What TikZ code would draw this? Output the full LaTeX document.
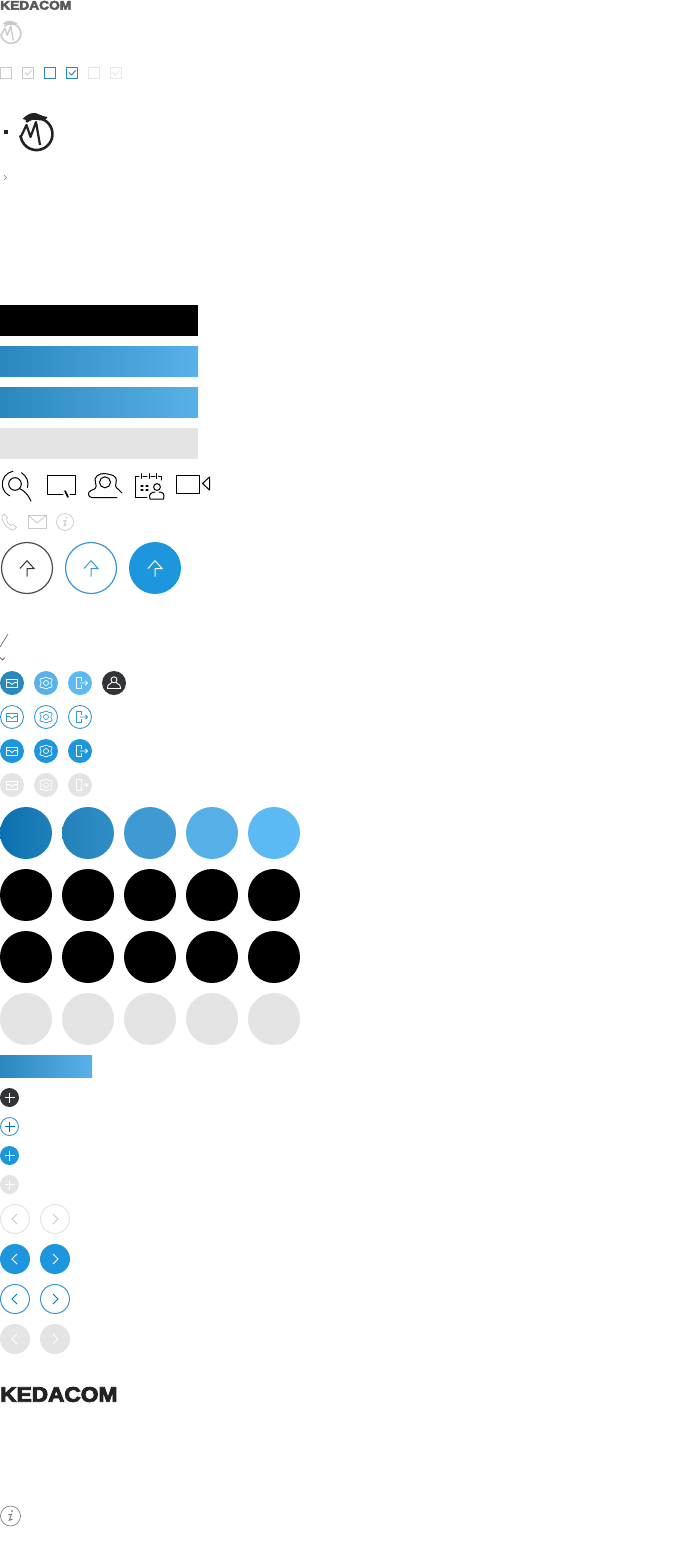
\documentclass[tikz,border=0pt]{standalone}
\usepackage{fontspec}
\newfontfamily\logofont[FakeBold=4]{Liberation Sans Bold}
\definecolor{kblue}{HTML}{1E96DE}
\definecolor{kedge}{HTML}{3C96D2}
\definecolor{kdark}{HTML}{323438}
\definecolor{kgray}{HTML}{E4E4E4}
\definecolor{kline}{HTML}{CACACA}
\definecolor{kglight}{HTML}{E6E6E6}
\definecolor{kdeep}{HTML}{0078BE}
\definecolor{gradl}{HTML}{2A88BF}
\definecolor{gradr}{HTML}{58B1E8}
\definecolor{cA}{HTML}{0A70AE}
\definecolor{cAr}{HTML}{2080BA}
\definecolor{cB}{HTML}{2482BA}
\definecolor{cBr}{HTML}{308EC6}
\definecolor{cC}{HTML}{3F9AD3}
\definecolor{cD}{HTML}{55B0E8}
\definecolor{cE}{HTML}{5BB9F4}
\definecolor{klogo}{HTML}{222222}
\tikzset{
 gradbar/.style={left color=gradl,right color=gradr,draw=none},
 glyph/.style={line width=.8pt,line cap=round,line join=round},
 logotext/.style={inner sep=0pt,anchor=west,font=\logofont},
 chk/.style={line width=1pt,fill=white},
}
% icons: x, y, colour
\newcommand{\mailic}[3]{\begin{scope}[shift={(#1,#2)}]
 \draw[glyph,#3] (-5.7,-3.5) rectangle (5.7,4);
 \draw[glyph,#3] (-5.7,-.5) -- (-2.5,-.5) -- (0,1.5) -- (2.5,-.5) -- (5.7,-.5);
 \end{scope}}
\newcommand{\gearic}[3]{\begin{scope}[shift={(#1,#2)}]
 \draw[glyph,#3,line width=.7pt] (0,-5.8) .. controls (1.5,-6.2) and (2,-4.6) .. (2.8,-4.6) .. controls (3.8,-4.6) and (6,-5) .. (6.2,-3.2) .. controls (6.4,-1.8) and (4.8,-1) .. (4.8,0) .. controls (4.8,1) and (6.4,1.8) .. (6.2,3.2) .. controls (6,5) and (3.8,4.6) .. (2.8,4.6) .. controls (2,4.6) and (1.5,6.2) .. (0,5.8) .. controls (-1.5,6.2) and (-2,4.6) .. (-2.8,4.6) .. controls (-3.8,4.6) and (-6,5) .. (-6.2,3.2) .. controls (-6.4,1.8) and (-4.8,1) .. (-4.8,0) .. controls (-4.8,-1) and (-6.4,-1.8) .. (-6.2,-3.2) .. controls (-6,-5) and (-3.8,-4.6) .. (-2.8,-4.6) .. controls (-2,-4.6) and (-1.5,-6.2) .. (0,-5.8) -- cycle;
 \draw[glyph,#3,line width=.7pt] (0,0) circle (2.5);
 \end{scope}}
\newcommand{\exitic}[3]{\begin{scope}[shift={(#1,#2)}]
 \draw[#3,line width=1pt] (1.7,-2) -- (1.7,-5.5) -- (-4,-5.5) -- (-4,5.5) -- (1.7,5.5) -- (1.7,2);
 \draw[#3,line width=.9pt] (0,0) -- (7.5,0) (5.5,-2) -- (7.5,0) -- (5.5,2);
 \end{scope}}
\newcommand{\upic}[3]{\begin{scope}[shift={(#1,#2)}]
 \draw[line width=1pt,#3,line join=miter] (-7,.5) -- (0,-7.3) -- (7,.5) -- (0,.5) -- (0,8.7);
 \end{scope}}
\newcommand{\plusic}[3]{\begin{scope}[shift={(#1,#2)}]
 \draw[line width=1.1pt,#3] (-5,0) -- (5,0) (0,-5) -- (0,5);
 \end{scope}}
\newcommand{\lchev}[3]{\begin{scope}[shift={(#1,#2)}]
 \draw[line width=.9pt,#3] (2.5,-5) -- (-2.5,0) -- (2.5,5);
 \end{scope}}
\newcommand{\rchev}[3]{\begin{scope}[shift={(#1,#2)}]
 \draw[line width=.9pt,#3] (-2,-5) -- (3,0) -- (-2,5);
 \end{scope}}
\newcommand{\infoic}[4]{\begin{scope}[shift={(#1,#2)},scale=#3]
 \draw[#4,line width=.7pt] (0,0) circle (10);
 \draw[#4,line width=1pt,line cap=round] (-2,-1.2) -- (1,-1.8) -- (-1.2,4.2) -- (1.8,3.2);
 \fill[#4] (1.4,-5) circle (1.1);
 \end{scope}}
\newcommand{\mlogo}[4]{\begin{scope}[shift={(#1,#2)},scale=#3]
 \draw[#4,line width=2.6*#3 pt] (-10.3,-12.2) arc[start angle=-130,end angle=172,radius=16];
 \fill[#4] (-14,-15) .. controls (-10,-19) and (-6,-21.5) .. (-1,-21) .. controls (2,-20.5) and (4,-18) .. (11,-17) .. controls (10,-14) and (6,-13) .. (0,-14) .. controls (-5,-15) and (-10,-13) .. (-14,-15) -- cycle;
 \draw[#4,line width=2.2*#3 pt,line join=round] (-17,3) -- (-15,1.5) -- (-10,-9) -- (-6,3) -- (-.5,-12) -- (3.5,11);
 \end{scope}}
\begin{document}
\begin{tikzpicture}[x=1pt,y=-1pt]
\useasboundingbox (0,0) rectangle (698,1560);
% top logo and mark
\node[logotext,text=black!65,font=\logofont\fontsize{12.5}{12.5}\selectfont,xscale=1.1] (logotop) at (0,5.3) {KEDACOM};
\mlogo{11}{33.5}{.62}{kline}
% check boxes
\draw[chk,draw=kline] (.5,67.5) rectangle (11.5,78.5);
\draw[chk,draw=kline] (22.5,67.5) rectangle (33.5,78.5);
\draw[line width=.8pt,kline] (25,72.5) -- (27.5,75) -- (31.5,70.5);
\draw[chk,draw=gradl] (44.5,67.5) rectangle (55.5,78.5);
\draw[chk,draw=gradl] (66.5,67.5) rectangle (77.5,78.5);
\draw[line width=1pt,gradl] (69,72.5) -- (71.5,75) -- (75.5,70.5);
\draw[chk,draw=kglight] (88.5,67.5) rectangle (99.5,78.5);
\draw[chk,draw=kglight] (110.5,67.5) rectangle (121.5,78.5);
\draw[line width=.8pt,kglight] (113,72.5) -- (115.5,75) -- (119.5,70.5);
% list bullet and mark
\fill[klogo] (4,130) rectangle (8,134);
\mlogo{36.5}{134}{1}{klogo}
\draw[line width=.7pt,kedge] (4,175) -- (6.5,177.5) -- (4,180);
% bars
\fill[black] (0,305) rectangle (198,336);
\fill[gradbar] (0,346) rectangle (198,376.7);
\fill[gradbar] (0,387) rectangle (198,417.7);
\fill[kgray] (0,428) rectangle (198,459);
% line icons row
\begin{scope}[line width=1pt,line cap=round,line join=round]
\draw (13,471.2) arc[start angle=-100,end angle=-245,radius=13];
\draw (21.5,472.8) arc[start angle=-60,end angle=15,radius=13];
\draw (15,484) circle (6.3);
\draw (19.5,488.5) .. controls (25,491) and (28,495) .. (31,501);
\draw (63,494.5) -- (47.5,494.5) -- (47.5,475.5) -- (75,475.5) -- (75,494.5) -- (70,494.5);
\draw[line width=1.6pt] (65,491) -- (68,497);
\draw (105,482.3) circle (5.5);
\draw (117,497.5) -- (92,497.5) .. controls (88,497.5) and (87,492) .. (91,490.5) .. controls (96,489) and (97,487) .. (95.5,483) .. controls (93,477) and (99,473) .. (105,473.5) .. controls (110,475) and (118,474) .. (116,483) .. controls (114,488) and (118,488) .. (122,493);
\draw (147,497.5) -- (135.5,497.5) -- (135.5,476.5) -- (139,476.5) (143,476.5) -- (147,476.5) (151,476.5) -- (155,476.5) (158.5,476.5) -- (161,476.5) -- (161,480);
\draw (141,473.5) -- (141,478.5) (149,473.5) -- (149,478.5) (156.5,473.5) -- (156.5,478.5);
\draw[line width=1.1pt] (141,486) -- (143,486) (146,486) -- (148,486) (141,490) -- (143,490) (146,490) -- (148,490);
\draw (157,487) circle (3.4);
\draw (150,499) .. controls (148,494) and (152,492) .. (155,492) (159,492) .. controls (163,492) and (165,494) .. (163.5,499) -- (150,499);
\draw (176.5,475.5) rectangle (199,493.5);
\draw (209.5,477) -- (202.5,483.5) -- (209.5,490) -- cycle;
\end{scope}
% gray small icons
\draw[kline,line width=.8pt,line join=round] (2,516) .. controls (1,518) and (4,526) .. (10,529) .. controls (13,531) and (15,529.5) .. (16.5,527.5) -- (13,524.5) -- (10.5,525.5) .. controls (8,524) and (6.5,521.5) .. (6.5,519.5) -- (7.5,517.5) -- (4,514) -- cycle;
\draw[kline,line width=.8pt] (28.5,515.5) rectangle (46,528);
\draw[kline,line width=.8pt] (28.5,515.5) -- (37,523) -- (46,515.5);
\infoic{65}{522}{.85}{kline}
% upload buttons
\draw[fill=white,draw=black!70,line width=1.2pt] (27,568) circle (25.5);
\upic{27}{568}{kdark}
\draw[fill=white,draw=kedge,line width=1.2pt] (91,568) circle (25.5);
\upic{91}{568}{kedge}
\fill[kblue] (155,568) circle (26);
\upic{155}{568}{white}
% slash and chevron
\draw[black!60,line width=.7pt] (0,647) -- (8,634);
\draw[black!80,line width=.6pt] (0,657.5) -- (2.5,660) -- (5,657.5);
% small icon rows
\fill[gradl] (12,683) circle (12);
\fill[gradr] (46,683) circle (12);
\fill[cE] (80,683) circle (12);
\fill[kdark] (114,683) circle (12);
\mailic{12}{683}{white}
\gearic{46}{683}{white}
\exitic{80}{683}{white}
\begin{scope}[shift={(114,683)}]
\draw[white,line width=.9pt] (0,-3.2) circle (3);
\draw[white,line width=.9pt,line join=round] (-2,-.5) .. controls (-5,1) and (-6.5,2) .. (-6.5,5.5) -- (6.5,5.5) .. controls (6.5,2) and (5,1) .. (2,-.5);
\end{scope}
\foreach \xx in {12,46,80} \draw[fill=white,draw=kedge,line width=.9pt] (\xx,717) circle (11.5);
\mailic{12}{717}{kedge}
\gearic{46}{717}{kedge}
\exitic{80}{717}{kedge}
\foreach \xx in {12,46,80} \fill[kblue] (\xx,751) circle (12);
\mailic{12}{751}{white}
\gearic{46}{751}{white}
\exitic{80}{751}{white}
\foreach \xx in {12,46,80} \fill[kgray] (\xx,785) circle (12);
\mailic{12}{785}{white}
\gearic{46}{785}{white}
\exitic{80}{785}{white}
% big circles
\shade[left color=cA,right color=cAr] (26,833) circle (26);
\shade[left color=cB,right color=cBr] (88,833) circle (26);
\foreach \xx/\cc in {150/cC,212/cD,274/cE} \fill[\cc] (\xx,833) circle (26);
\foreach \yy in {895,957} \foreach \xx in {26,88,150,212,274} \fill[black] (\xx,\yy) circle (26);
\foreach \xx in {26,88,150,212,274} \fill[kgray] (\xx,1019) circle (26);
% small bar
\fill[gradbar] (0,1055) rectangle (92,1077.7);
% plus buttons
\fill[kdark] (9.5,1097.5) circle (9.5);
\plusic{9.5}{1097.5}{white}
\draw[fill=white,draw=kedge,line width=.9pt] (9.5,1126.5) circle (9);
\plusic{9.5}{1126.5}{kdeep}
\fill[kblue] (9.5,1155.5) circle (9.5);
\plusic{9.5}{1155.5}{white}
\fill[kgray] (9.5,1184.5) circle (9.5);
\plusic{9.5}{1184.5}{white}
% pagers
\foreach \xx in {15,55} \draw[fill=white,draw=kgray,line width=1pt] (\xx,1219) circle (14.5);
\lchev{14.5}{1219}{kline}
\rchev{55}{1219}{kline}
\foreach \xx in {15,55} \fill[kblue] (\xx,1259) circle (15);
\lchev{14.5}{1259}{white}
\rchev{55}{1259}{white}
\foreach \xx in {15,55} \draw[fill=white,draw=kedge,line width=1pt] (\xx,1299) circle (14.5);
\lchev{14.5}{1299}{kdeep}
\rchev{55}{1299}{kdeep}
\foreach \xx in {15,55} \fill[kgray] (\xx,1339) circle (15);
\lchev{14.5}{1339}{white}
\rchev{55}{1339}{white}
% bottom logo
\node[logotext,text=klogo,font=\logofont\fontsize{21}{21}\selectfont,xscale=1.08] (logobottom) at (0,1394.5) {KEDACOM};
\infoic{10.5}{1516}{1}{black!50}
\end{tikzpicture}
\end{document}
